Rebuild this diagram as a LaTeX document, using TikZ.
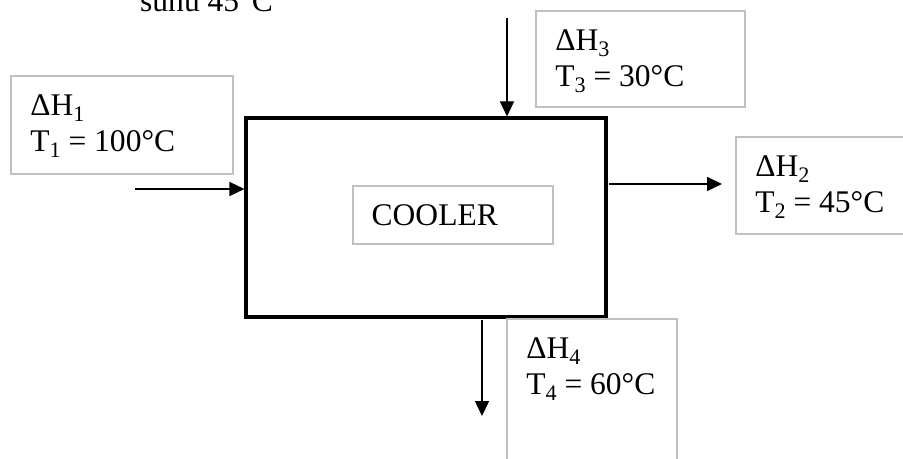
\documentclass[tikz,border=0pt]{standalone}
\usepackage{fontspec}
\setmainfont{Liberation Serif}
\usepackage{tikz}
\usetikzlibrary{positioning}
\usetikzlibrary{arrows.meta}
\definecolor{boxgray}{RGB}{192,192,192}
\newcommand{\sbs}[1]{\raisebox{-0.2em}{\fontsize{21}{21}\selectfont #1}}
\tikzset{
	lbl/.style={draw=boxgray, line width=1.6pt, inner sep=0pt},
	txt/.style={anchor=base west, align=left, inner sep=0pt, font=\fontsize{29.9}{34.1}\selectfont},
	arr/.style={line width=1.1pt, -{Triangle[length=0.5cm, width=0.47cm]}}
}

\begin{document}
\begin{tikzpicture}[font=\fontsize{29.9}{34.1}\selectfont]
			\useasboundingbox (0,0) rectangle (30.1,15.3);
			%cooler
			\node[draw, line width=3pt, minimum width=12cm, minimum height=6.633cm] (cooler) at (14.2,8.05) {};
			\node[lbl, text width=5.4cm, inner xsep=0.633cm, minimum height=1.933cm, align=left] (coolertxt) at (15.09,8.133) {COOLER};
			
			\node[txt] (suhu) at (4.667,14.9) {suhu 45°C};
			
			%streams
			\node[lbl, minimum width=7.4cm, minimum height=3.267cm] (h1) at (4.067,11.133) {};
			\node[lbl, minimum width=6.967cm, minimum height=3.2cm] (h3) at (21.35,13.333) {};
			\node[lbl, minimum width=5.8cm, minimum height=3.233cm] (h2) at (27.433,9.117) {};
			\node[lbl, minimum width=5.667cm, minimum height=4.7cm] (h4) at (19.733,2.317) {};
			
			\node[txt] (t1) at ([xshift=0.667cm, yshift=-2.533cm]h1.north west) {ΔH\sbs{1}\\T\sbs{1} = 100°C};
			\node[txt] (t3) at ([xshift=0.667cm, yshift=-2.533cm]h3.north west) {ΔH\sbs{3}\\T\sbs{3} = 30°C};
			\node[txt] (t2) at ([xshift=0.667cm, yshift=-2.533cm]h2.north west) {ΔH\sbs{2}\\T\sbs{2} = 45°C};
			\node[txt] (t4) at ([xshift=0.667cm, yshift=-2.533cm]h4.north west) {ΔH\sbs{4}\\T\sbs{4} = 60°C};
			
			\coordinate (in1) at (4.5,9.0);
			\coordinate (in3) at (16.9,14.7);
			\coordinate (out2) at (24.067,9.167);
			\coordinate (out4) at (16.067,1.433);
			
			\draw[arr] (in1) -- (in1 -| cooler.west);
			\draw[arr] (in3) -- (in3 |- cooler.north);
			\draw[arr, shorten <=0.05cm] (cooler.east |- out2) -- (out2);
			\draw[arr, shorten <=0.05cm] (cooler.south -| out4) -- (out4);
			
		\end{tikzpicture}
\end{document}
